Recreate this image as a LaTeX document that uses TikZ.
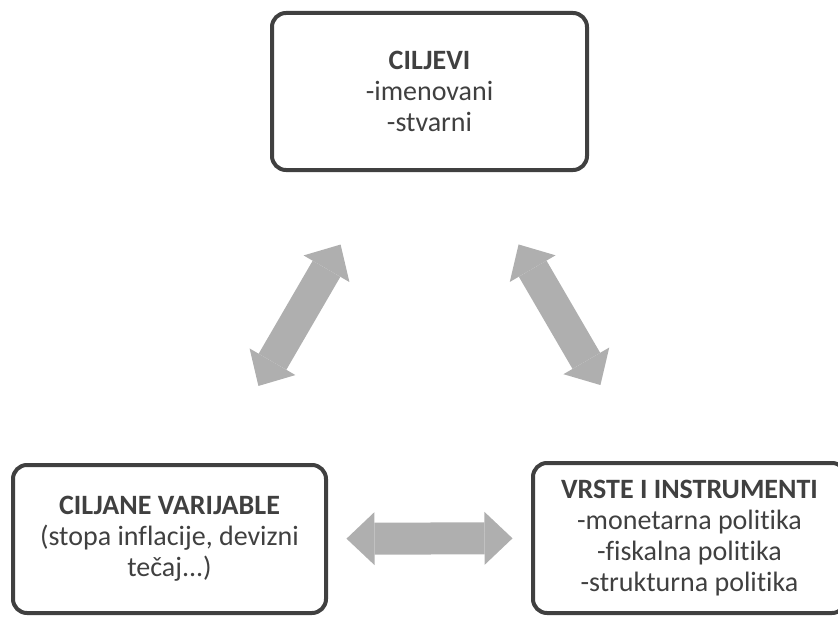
\documentclass[tikz,border=0pt]{standalone}
\usepackage{fontspec}
\setmainfont[Ligatures={NoCommon}]{Carlito}
\usepackage{xcolor}
\usepackage{tikz}
\usetikzlibrary{arrows.meta,calc}
\definecolor{boxgray}{HTML}{404040}
\definecolor{arrowgray}{HTML}{AFAFAF}

\begin{document}
\begin{tikzpicture}[x=1pt,y=-1pt,line cap=round,line join=round,
  box/.style={draw=boxgray,line width=4pt,rounded corners=14pt,align=center,
    text=boxgray,font=\fontsize{28}{31}\selectfont,inner sep=0pt},
  dblarrow/.style={draw=arrowgray,line width=32pt,line cap=butt,
    {Triangle[length=28pt,width=53pt,line width=0pt]}-{Triangle[length=28pt,width=53pt,line width=0pt]},
    shorten <=177pt,shorten >=177pt}]
\useasboundingbox (0,0) rectangle (838,618);
% the three boxes
\node[box,minimum width=315pt,minimum height=157pt] (cil) at (429.5,91.5)
  {\textbf{CILJEVI}\\-imenovani\\-stvarni};
\node[box,minimum width=313pt,minimum height=148pt] (var) at (169.5,539)
  {\textbf{CILJANE VARIJABLE}\\(stopa inflacije, devizni\\tečaj...)};
\node[box,minimum width=313pt,minimum height=150pt] (ins) at (689.5,538)
  {\textbf{VRSTE I INSTRUMENTI}\\-monetarna politika\\-fiskalna politika\\-strukturna politika};
% arrows between them
\draw[dblarrow] (var.center) -- (cil.center);
\draw[dblarrow] (ins.center) -- (cil.center);
\draw[dblarrow] (var.center) -- (ins.center);
\end{tikzpicture}
\end{document}
